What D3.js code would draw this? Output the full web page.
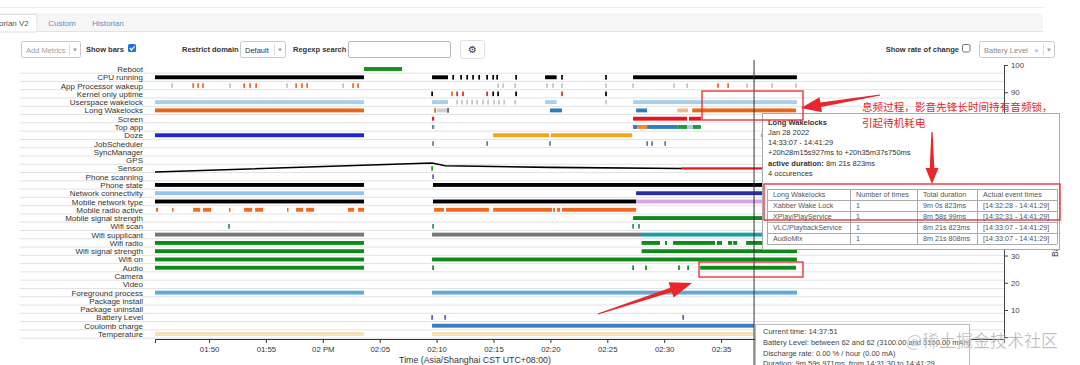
<!DOCTYPE html>
<html>
<head>
<meta charset="utf-8">
<script src="https://cdn.jsdelivr.net/npm/d3@7"></script>
<style>
  body { margin: 0; background: #fff; }
  svg { display: block; font-family: "Liberation Sans", Arial, sans-serif; }
</style>
</head>
<body>
<div id="main"></div>
<script>
// ---- data (times are local, Jan 28 2022) ----
const rowLabels = ["Reboot", "CPU running", "App Processor wakeup", "Kernel only uptime",
  "Userspace wakelock", "Long Wakelocks", "Screen", "Top app", "Doze", "JobScheduler",
  "SyncManager", "GPS", "Sensor", "Phone scanning", "Phone state", "Network connectivity",
  "Mobile network type", "Mobile radio active", "Mobile signal strength", "Wifi scan",
  "Wifi supplicant", "Wifi radio", "Wifi signal strength", "Wifi on", "Audio", "Camera",
  "Video", "Foreground process", "Package install", "Package uninstall", "Battery Level",
  "Coulomb charge", "Temperature"];

const timeDomain = ["13:45:15", "14:59:52"];
const tickTimes = ["13:50", "13:55", "14:00", "14:05", "14:10", "14:15", "14:20",
  "14:25", "14:30", "14:35", "14:40", "14:45", "14:50", "14:55"];
const batteryTicks = [0, 10, 20, 30, 40, 50, 60, 70, 80, 90, 100];
// tick labels that sit behind the tooltips in the screenshot
const hiddenBatteryLabels = [0, 40, 50, 60, 70, 80];

// bars: [start, end, state?]   ticks: [time, state?]
const reboot = [["14:03:37", "14:06:58"]];
const cpuRunning = [["13:45:15", "14:03:37"], ["14:09:36", "14:11:00"], ["14:19:32", "14:20:33"], ["14:27:16", "14:41:40"]];
const cpuRunningTicks = [["14:11:27"], ["14:12:09"], ["14:12:41"], ["14:13:12"], ["14:13:44"], ["14:14:26"],
  ["14:14:58"], ["14:15:19"], ["14:16:59"], ["14:21:01"], ["14:24:53"]];
const appWakeups = [["13:46:45", "other"], ["13:48:36", "alarm"], ["13:49:02", "alarm"], ["13:49:28", "alarm"],
  ["13:51:51", "other"], ["13:53:05", "alarm"], ["13:53:36", "alarm"], ["13:54:08", "alarm"],
  ["13:56:51", "other"], ["13:57:39", "alarm"], ["13:58:10", "alarm"], ["13:58:37", "alarm"],
  ["14:01:47", "other"], ["14:02:39", "alarm"], ["14:03:06", "alarm"],
  ["14:15:24", "other"], ["14:15:51", "other"], ["14:16:54", "other"], ["14:19:42", "other"],
  ["14:20:14", "other"], ["14:21:01", "other"], ["14:24:53", "other"], ["14:27:16", "other"],
  ["14:30:52", "other"], ["14:32:01", "other"], ["14:34:44", "alarm"], ["14:35:37", "alarm"],
  ["14:37:17", "other"], ["14:39:29", "other"], ["14:41:35", "other"]];
const kernelUptime = [["14:09:36", "kernel"], ["14:11:21", "alarm"], ["14:11:48", "irq"], ["14:12:19", "irq"],
  ["14:14:26", "irq"], ["14:14:58", "kernel"], ["14:15:24", "kernel"], ["14:16:59", "kernel"],
  ["14:21:01", "irq"], ["14:24:53", "kernel"]];
const userspaceWakelock = [["13:45:15", "14:03:37"], ["14:09:36", "14:11:00"], ["14:19:32", "14:20:33"], ["14:27:16", "14:41:40"]];
const userspaceTicks = [["14:11:48"], ["14:12:14"], ["14:12:41"], ["14:13:07"], ["14:13:33"], ["14:14:05"],
  ["14:14:31"], ["14:15:03"], ["14:15:29"], ["14:15:56"], ["14:16:54"], ["14:24:53"]];
const longWakelocks = [["13:45:15", "14:03:37", "audio"], ["14:10:02", "14:10:55", "idle"],
  ["14:19:58", "14:21:01", "sync"], ["14:27:32", "14:28:30", "sync"], ["14:31:09", "14:32:06", "media"],
  ["14:32:28", "14:41:35", "audio"]];
const longWakelockTicks = [["14:09:52", "audio"], ["14:11:00", "dark"]];
const screen = [["14:09:36", "14:09:47"], ["14:27:16", "14:32:01"], ["14:32:11", "14:33:14"]];
const topApp = [["14:09:36", "14:09:41", "launcher"], ["14:09:41", "14:09:47", "settings"],
  ["14:27:16", "14:27:37", "launcher"], ["14:27:37", "14:28:30", "settings"],
  ["14:28:30", "14:31:09", "launcher"], ["14:31:09", "14:32:01", "player"],
  ["14:32:01", "14:32:32", "browser"], ["14:32:32", "14:33:14", "player"]];
const doze = [["13:45:15", "14:03:37", "deep"], ["14:14:58", "14:19:53", "light"],
  ["14:20:03", "14:27:11", "light"], ["14:38:30", "14:41:40", "light"]];
const jobScheduler = [["14:09:41"], ["14:14:26"], ["14:19:58"], ["14:28:30"], ["14:28:56"], ["14:30:05"]];
const sensorTicks = [["14:09:36"]];
const phoneScanning = [["14:09:41"]];
const phoneState = [["13:45:15", "14:03:37"], ["14:09:41", "14:41:40"]];
const networkConnectivity = [["13:45:15", "14:03:37", "wifi"], ["14:27:32", "14:41:40", "mobile"]];
const mobileNetworkType = [["13:45:15", "14:03:37", "lte"], ["14:09:41", "14:27:32", "lte"], ["14:27:32", "14:41:40", "hspa"]];
const mobileRadioActive = [["13:45:20", "13:45:31"], ["13:46:45", "13:46:50"], ["13:48:36", "13:49:13"],
  ["13:49:28", "13:50:11"], ["13:51:45", "13:51:51"], ["13:53:05", "13:53:47"], ["13:54:03", "13:54:45"],
  ["13:56:51", "13:56:57"], ["13:57:39", "13:58:16"], ["13:58:32", "13:59:14"], ["14:02:13", "14:02:45"],
  ["14:03:06", "14:03:37"], ["14:09:47", "14:10:39"], ["14:10:50", "14:14:36"], ["14:14:58", "14:20:09"],
  ["14:20:14", "14:20:24"], ["14:20:35", "14:20:51"], ["14:21:01", "14:27:32"]];
const mobileSignal = [["14:27:16", "14:41:40"]];
const wifiScan = [["13:51:45"], ["14:09:41"], ["14:27:16"], ["14:27:47"]];
const wifiSupplicant = [["13:45:15", "14:03:37", "completed"], ["14:09:36", "14:27:58", "completed"], ["14:27:58", "14:41:40", "scanning"]];
const wifiRadio = [["13:45:15", "14:03:37"], ["14:28:01", "14:29:38"], ["14:30:05", "14:30:15"],
  ["14:30:47", "14:34:28"], ["14:34:38", "14:35:05"], ["14:35:37", "14:35:58"], ["14:36:04", "14:36:25"],
  ["14:37:12", "14:41:40"]];
const wifiSignal = [["13:45:15", "14:03:37"], ["14:28:01", "14:41:40"]];
const wifiOn = [["13:45:15", "14:03:37"], ["14:09:36", "14:41:40"]];
const audio = [["13:45:15", "14:03:37"], ["14:33:10", "14:41:35"]];
const audioTicks = [["14:09:41"], ["14:27:16"], ["14:28:24"], ["14:31:18"], ["14:32:06"]];
const foreground = [["13:45:15", "14:03:37"], ["14:09:36", "14:41:40"]];
const batteryLevelTicks = [["14:09:36"], ["14:10:45"], ["14:31:40"]];
const coulombCharge = [["14:09:36", "14:37:54"]];
const temperature = [["13:45:15", "14:03:37"], ["14:09:36", "14:37:54"]];

const batteryTimes = ["13:45:15", "14:09:36", "14:10:45", "14:20:00", "14:31:30", "14:41:29"];
const batteryLevels = [60.7, 64.0, 63.0, 62.4, 62.0, 62.0];
const dischargeWindow = ["14:31:30", "14:41:29"];
const cursorTime = "14:37:54";

const wakelockTable = [
  ["Long Wakelocks", "Number of times", "Total duration", "Actual event times"],
  ["Xabber Wake Lock", "1", "9m 0s 823ms", "[14:32:28 - 14:41:29]"],
  ["XPlay/PlayService", "1", "8m 58s 99ms", "[14:32:31 - 14:41:29]"],
  ["VLC/PlaybackService", "1", "8m 21s 823ms", "[14:33:07 - 14:41:29]"],
  ["AudioMix", "1", "8m 21s 808ms", "[14:33:07 - 14:41:29]"]];

// ---- styles ----
const rowColors = {
  "Reboot": "#14911a", "CPU running": "#000", "App Processor wakeup": "#c4c4c4",
  "Kernel only uptime": "#000", "Userspace wakelock": "#a8d0ee", "Long Wakelocks": "#ec6417",
  "Screen": "#e8141b", "Top app": "#2f7ebc", "Doze": "#1f23d6", "JobScheduler": "#5a7aa5",
  "Sensor": "#2a9a2a", "Phone scanning": "#7b4fd0", "Phone state": "#000",
  "Network connectivity": "#93c5ef", "Mobile network type": "#000", "Mobile radio active": "#ef6a1e",
  "Mobile signal strength": "#0f8a18", "Wifi scan": "#2e8b57", "Wifi supplicant": "#777",
  "Wifi radio": "#0f8a18", "Wifi signal strength": "#0f8a18", "Wifi on": "#0f8a18", "Audio": "#0f8a18",
  "Foreground process": "#5eaad8", "Battery Level": "#6f47d8", "Coulomb charge": "#3a7ec2",
  "Temperature": "#f6e2b8"
};
const stateColors = {
  alarm: "#ec6a1f", other: "#c4c4c4", kernel: "#000", irq: "#e3262b",
  audio: "#ec6417", idle: "#cfcfcf", sync: "#2f7ebc", media: "#f5b78a", dark: "#555",
  launcher: "#2f7ebc", settings: "#f08a2c", player: "#1f9a3a", browser: "#aec9e0",
  deep: "#1f23d6", light: "#f2a516", wifi: "#93c5ef", mobile: "#2b2ba6",
  lte: "#000", hspa: "#dca2e6", completed: "#777", scanning: "#14a0a8"
};

const rows = {
  "Reboot": { bars: reboot },
  "CPU running": { bars: cpuRunning, ticks: cpuRunningTicks },
  "App Processor wakeup": { ticks: appWakeups },
  "Kernel only uptime": { ticks: kernelUptime },
  "Userspace wakelock": { bars: userspaceWakelock, ticks: userspaceTicks, tickState: "other" },
  "Long Wakelocks": { bars: longWakelocks, ticks: longWakelockTicks },
  "Screen": { bars: screen },
  "Top app": { bars: topApp },
  "Doze": { bars: doze },
  "JobScheduler": { ticks: jobScheduler },
  "Sensor": { ticks: sensorTicks },
  "Phone scanning": { ticks: phoneScanning },
  "Phone state": { bars: phoneState },
  "Network connectivity": { bars: networkConnectivity },
  "Mobile network type": { bars: mobileNetworkType },
  "Mobile radio active": { bars: mobileRadioActive },
  "Mobile signal strength": { bars: mobileSignal },
  "Wifi scan": { ticks: wifiScan },
  "Wifi supplicant": { bars: wifiSupplicant },
  "Wifi radio": { bars: wifiRadio },
  "Wifi signal strength": { bars: wifiSignal },
  "Wifi on": { bars: wifiOn },
  "Audio": { bars: audio, ticks: audioTicks },
  "Foreground process": { bars: foreground },
  "Battery Level": { ticks: batteryLevelTicks },
  "Coulomb charge": { bars: coulombCharge },
  "Temperature": { bars: temperature }
};

const parseT = d3.timeParse("%H:%M:%S");
const parseHM = d3.timeParse("%H:%M");
const W = 1080, H = 365;

const svg = d3.select("#main").append("svg").attr("width", W).attr("height", H);
svg.append("rect").attr("width", W).attr("height", H).attr("fill", "#fff");

// ---- page header (tabs + controls) ----
const ui = svg.append("g");
ui.append("line").attr("x1", 0).attr("x2", 1043).attr("y1", 7.5).attr("y2", 7.5).attr("stroke", "#ececec");
ui.append("rect").attr("x", 0).attr("y", 13).attr("width", 1043).attr("height", 18).attr("fill", "#f6f6f6");
ui.append("line").attr("x1", 0).attr("x2", 1043).attr("y1", 31.5).attr("y2", 31.5).attr("stroke", "#e2e2e2");
ui.append("rect").attr("x", -1).attr("y", 14.5).attr("width", 38).attr("height", 17.5)
  .attr("fill", "#fff").attr("stroke", "#e0e0e0");
ui.append("text").attr("x", -1).attr("y", 26).attr("font-size", 8).attr("fill", "#555").text("orian V2");
ui.append("text").attr("x", 62).attr("y", 26).attr("font-size", 8).attr("text-anchor", "middle").attr("fill", "#5b8fc7").text("Custom");
ui.append("text").attr("x", 108).attr("y", 26).attr("font-size", 8).attr("text-anchor", "middle").attr("fill", "#5b8fc7").text("Historian");

function selectBox(x0, w, label, color, withClear) {
  ui.append("rect").attr("x", x0 + 0.5).attr("y", 41.5).attr("width", w).attr("height", 16).attr("rx", 2)
    .attr("fill", "#fff").attr("stroke", "#c8c8c8");
  ui.append("text").attr("x", x0 + 5).attr("y", 52.5).attr("font-size", 7.5).attr("fill", color).text(label);
  if (withClear) ui.append("text").attr("x", x0 + w - 20).attr("y", 52.5).attr("font-size", 8).attr("fill", "#999").text("×");
  ui.append("line").attr("x1", x0 + w - 10.5).attr("x2", x0 + w - 10.5).attr("y1", 44).attr("y2", 55).attr("stroke", "#ddd");
  ui.append("path").attr("d", `M${x0 + w - 7},48.5 l4,0 l-2,3 z`).attr("fill", "#999");
}
function label(xp, txt, anchor) {
  ui.append("text").attr("x", xp).attr("y", 52).attr("font-size", 7.5).attr("font-weight", "bold")
    .attr("text-anchor", anchor || "start").attr("fill", "#333").text(txt);
}
selectBox(21, 59, "Add Metrics", "#a0a0a0");
label(86, "Show bars");
ui.append("rect").attr("x", 128).attr("y", 44).attr("width", 8).attr("height", 8).attr("rx", 1.5).attr("fill", "#1a73e8");
ui.append("path").attr("d", "M129.8,48 l1.8,2 l3,-3.6").attr("fill", "none").attr("stroke", "#fff").attr("stroke-width", 1.3);
label(182, "Restrict domain");
selectBox(240, 45, "Default", "#333");
label(293, "Regexp search");
ui.append("rect").attr("x", 348.5).attr("y", 41.5).attr("width", 102).attr("height", 16).attr("rx", 1.5)
  .attr("fill", "#fff").attr("stroke", "#b8b8b8");
ui.append("rect").attr("x", 460.5).attr("y", 40.5).attr("width", 24).attr("height", 18).attr("rx", 2)
  .attr("fill", "#fff").attr("stroke", "#e0e0e0");
ui.append("text").attr("x", 472.5).attr("y", 53).attr("font-size", 10).attr("font-family", "DejaVu Sans")
  .attr("text-anchor", "middle").attr("fill", "#333").text("⚙");
label(959, "Show rate of change", "end");
ui.append("rect").attr("x", 962.5).attr("y", 44.5).attr("width", 7.5).attr("height", 7.5).attr("rx", 1.5)
  .attr("fill", "#fff").attr("stroke", "#777");
selectBox(979, 75, "Battery Level", "#8a8a8a", true);

// ---- scales ----
const x = d3.scaleTime().domain(timeDomain.map(parseT)).range([155, 1004]);
const y = d3.scalePoint().domain(rowLabels).range([69, 334]);
const yBatt = d3.scaleLinear().domain([0, 100]).range([337.2, 65]);
const step = y.step();
const cursor = parseT(cursorTime);

const chart = svg.append("g");

// row labels and separators
chart.selectAll("line.sep").data(rowLabels).join("line").attr("class", "sep")
  .attr("x1", 20).attr("x2", 1004)
  .attr("y1", d => y(d) + step / 2).attr("y2", d => y(d) + step / 2)
  .attr("stroke", "#e2e2e2");
chart.selectAll("text.rowlab").data(rowLabels).join("text").attr("class", "rowlab")
  .attr("x", 143).attr("y", d => y(d) + 3).attr("text-anchor", "end")
  .attr("font-size", 8).attr("fill", "#333").text(d => d);

// bars and instant events
const barH = 3.9, tickH = 4.6;
rowLabels.forEach(name => {
  const r = rows[name];
  if (!r) return;
  const base = rowColors[name];
  const g = chart.append("g");
  if (r.bars) {
    g.selectAll("rect.bar").data(r.bars).join("rect").attr("class", "bar")
      .attr("x", d => x(parseT(d[0])))
      .attr("width", d => Math.max(1.5, x(parseT(d[1])) - x(parseT(d[0]))))
      .attr("y", y(name) - barH / 2).attr("height", barH)
      .attr("fill", d => stateColors[d[2]] || base);
  }
  if (r.ticks) {
    g.selectAll("rect.tick").data(r.ticks).join("rect").attr("class", "tick")
      .attr("x", d => x(parseT(d[0])) - 0.8).attr("width", 1.7)
      .attr("y", y(name) - tickH / 2).attr("height", tickH)
      .attr("fill", d => stateColors[d[1] || r.tickState] || base);
  }
});

// battery level line
const battPts = batteryTimes.map((t, i) => ({ t: parseT(t), v: batteryLevels[i] }));
const line = d3.line().x(d => x(d.t)).y(d => yBatt(d.v));
chart.append("path").datum(battPts).attr("d", line).attr("fill", "none")
  .attr("stroke", "#000").attr("stroke-width", 1.6);
const w0 = parseT(dischargeWindow[0]), w1 = parseT(dischargeWindow[1]);
chart.append("path").datum(battPts.filter(d => d.t >= w0 && d.t <= w1)).attr("d", line)
  .attr("fill", "none").attr("stroke", "#e8141b").attr("stroke-width", 1.8);

// axes (labels that fall under the bottom tooltip are left blank)
const fmtTick = d => d > cursor ? "" :
  (d.getMinutes() === 0 ? d3.timeFormat("%I %p")(d) : d3.timeFormat("%I:%M")(d));
const xAxis = chart.append("g").attr("transform", "translate(0,339)")
  .call(d3.axisBottom(x).tickValues(tickTimes.map(parseHM)).tickFormat(fmtTick).tickSize(4).tickSizeOuter(4));
xAxis.selectAll("text").attr("font-size", 7.8).attr("fill", "#333").attr("font-family", "Liberation Sans, Arial");
xAxis.selectAll("path,line").attr("stroke", "#333");
chart.append("text").attr("x", 475).attr("y", 363).attr("text-anchor", "middle")
  .attr("font-size", 8.8).attr("fill", "#333").text("Time (Asia/Shanghai CST UTC+08:00)");

const yAxis = chart.append("g").attr("transform", "translate(1004,0)")
  .call(d3.axisRight(yBatt).tickValues(batteryTicks).tickSize(4).tickSizeOuter(0)
    .tickFormat(d => hiddenBatteryLabels.includes(d) ? "" : d));
yAxis.selectAll("text").attr("font-size", 7.8).attr("fill", "#444").attr("font-family", "Liberation Sans, Arial");
yAxis.selectAll("path,line").attr("stroke", "#444");
chart.append("text").attr("transform", "translate(1058,257) rotate(-90)")
  .attr("font-size", 8.5).attr("fill", "#333").text("Battery Level");

// cursor
const cx = x(cursor);
chart.append("line").attr("x1", cx).attr("x2", cx).attr("y1", 60).attr("y2", H)
  .attr("stroke", "#333").attr("stroke-width", 1);

// ---- tooltips ----
const tip = svg.append("g").attr("font-size", 7.5).attr("fill", "#333");
tip.append("rect").attr("x", 762.5).attr("y", 113.5).attr("width", 297).attr("height", 136)
  .attr("fill", "#fff").attr("stroke", "#aaa");
const tipLines = [["Long Wakelocks", true], ["Jan 28 2022"], ["14:33:07 - 14:41:29"],
  ["+20h28m15s927ms to +20h35m37s750ms"], ["active duration:", true, " 8m 21s 823ms"], ["4 occurences"]];
tipLines.forEach((l, i) => {
  const t = tip.append("text").attr("x", 768).attr("y", 124.5 + i * 10.3);
  t.append("tspan").attr("font-weight", l[1] ? "bold" : null).text(l[0]);
  if (l[2]) t.append("tspan").text(l[2]);
});
const colX = [767, 850, 917, 977, 1057], rowTop = 189, rowH = 11;
wakelockTable.forEach((r, i) => {
  r.forEach((c, j) => {
    tip.append("text").attr("x", colX[j] + 6).attr("y", rowTop + i * rowH + 8.2)
      .attr("font-size", 7.2).attr("fill", "#555").text(c);
  });
});
for (let i = 0; i <= wakelockTable.length; i++) {
  tip.append("line").attr("x1", colX[0]).attr("x2", colX[4])
    .attr("y1", rowTop + i * rowH + 0.5).attr("y2", rowTop + i * rowH + 0.5).attr("stroke", "#aaa");
}
colX.forEach(c => tip.append("line").attr("x1", c + 0.5).attr("x2", c + 0.5)
  .attr("y1", rowTop).attr("y2", rowTop + wakelockTable.length * rowH).attr("stroke", "#aaa"));

tip.append("rect").attr("x", 755.5).attr("y", 324.5).attr("width", 214).attr("height", 50)
  .attr("fill", "#fff").attr("stroke", "#bbb");
["Current time: 14:37:51",
 "Battery Level: between 62 and 62 (3100.00 and 3100.00 mAh)",
 "Discharge rate: 0.00 % / hour (0.00 mA)",
 "Duration: 9m 59s 971ms, from 14:31:30 to 14:41:29"].forEach((s, i) => {
  tip.append("text").attr("x", 763).attr("y", 334 + i * 10.8).attr("fill", "#444").text(s);
});

// ---- red annotations ----
const ann = svg.append("g");
const red = "#e8262b";
function arrow(x1, y1, x2, y2, headLen, headW) {
  const dx = x2 - x1, dy = y2 - y1, L = Math.hypot(dx, dy);
  const ux = dx / L, uy = dy / L, nx = -uy, ny = ux;
  const bx = x2 - ux * headLen, by = y2 - uy * headLen;
  const pts = [[x1 + nx * 0.6, y1 + ny * 0.6], [bx + nx * 2.3, by + ny * 2.3], [bx + nx * headW, by + ny * headW],
    [x2, y2], [bx - nx * headW, by - ny * headW], [bx - nx * 2.3, by - ny * 2.3], [x1 - nx * 0.6, y1 - ny * 0.6]];
  ann.append("polygon").attr("points", pts.map(p => p.join(",")).join(" ")).attr("fill", red);
}
function box(x0, y0, x1, y1) {
  ann.append("rect").attr("x", x0).attr("y", y0).attr("width", x1 - x0).attr("height", y1 - y0)
    .attr("fill", "none").attr("stroke", red).attr("stroke-width", 1.3);
}
box(702, 91, 803, 120);
box(764, 184, 1060, 220);
box(699, 262, 803, 277);
arrow(880, 95, 801, 108, 20, 7.5);
arrow(932, 132, 932, 184, 16, 6.5);
arrow(598, 314, 692, 283, 22, 8);
ann.append("text").attr("x", 862).attr("y", 111).attr("font-size", 10.6)
  .attr("font-family", "Noto Sans CJK SC").attr("fill", red).text("息频过程，影音先锋长时间持有音频锁，");
ann.append("text").attr("x", 862).attr("y", 127).attr("font-size", 10.6)
  .attr("font-family", "Noto Sans CJK SC").attr("fill", red).text("引起待机耗电");

// watermark
svg.append("text").attr("x", 906).attr("y", 347).attr("font-size", 17)
  .attr("font-family", "Noto Sans CJK SC").attr("fill", "rgba(110,110,110,0.55)")
  .attr("stroke", "rgba(255,255,255,0.6)").attr("stroke-width", 0.6).text("@稀土掘金技术社区");
</script>
</body>
</html>
